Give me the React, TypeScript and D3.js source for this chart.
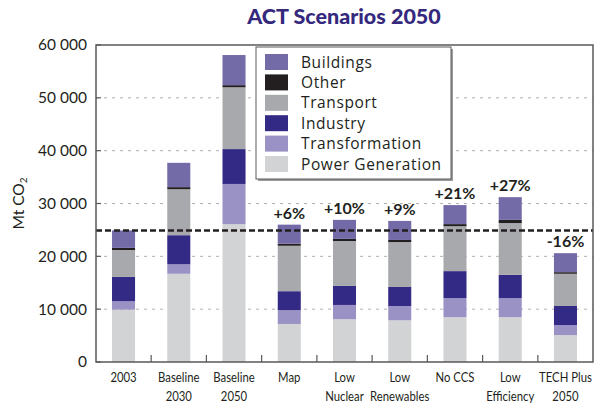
import React from "react";
import * as d3 from "d3";

// scenario categories (two-line labels)
const categories = [
  ["2003", ""],
  ["Baseline", "2030"],
  ["Baseline", "2050"],
  ["Map", ""],
  ["Low", "Nuclear"],
  ["Low", "Renewables"],
  ["No CCS", ""],
  ["Low", "Efficiency"],
  ["TECH Plus", "2050"],
];

// Mt CO2, stacked bottom -> top
const powerGeneration = [9900, 16700, 26100, 7200, 8100, 7900, 8500, 8500, 5100];
const transformation = [1600, 1800, 7600, 2600, 2700, 2700, 3600, 3600, 1900];
const industry = [4600, 5500, 6600, 3600, 3600, 3600, 5100, 4400, 3600];
const transport = [5100, 8700, 11700, 8600, 8500, 8500, 8500, 9800, 6100];
const other = [400, 400, 400, 400, 400, 400, 400, 600, 300];
const buildings = [3300, 4600, 5700, 3600, 3600, 3600, 3600, 4300, 3600];

const changeLabels = ["", "", "", "+6%", "+10%", "+9%", "+21%", "+27%", "-16%"];

const yTicks = [0, 10000, 20000, 30000, 40000, 50000, 60000];

const series = [
  { name: "Power Generation", values: powerGeneration, color: "#d1d3d4" },
  { name: "Transformation", values: transformation, color: "#9a92c4" },
  { name: "Industry", values: industry, color: "#322a84" },
  { name: "Transport", values: transport, color: "#a7a9ac" },
  { name: "Other", values: other, color: "#231f20" },
  { name: "Buildings", values: buildings, color: "#736aa8" },
];

const W = 602;
const H = 406;
const M = { left: 96, right: 9, top: 45, bottom: 44 };
const FONT = "Lato, 'Open Sans', sans-serif";
const LEGEND_FONT = "'Open Sans', Lato, sans-serif";

export default function App() {
  const x = d3
    .scaleBand<number>()
    .domain(categories.map((_, i) => i))
    .range([M.left, W - M.right])
    .paddingInner(0.583)
    .paddingOuter(0.29);
  const y = d3.scaleLinear().domain([0, 60000]).range([H - M.bottom, M.top]);

  const rows = categories.map((_, i) => {
    const r: Record<string, number> = {};
    series.forEach((s) => (r[s.name] = s.values[i]));
    return r;
  });
  const stacked = d3.stack<Record<string, number>>().keys(series.map((s) => s.name))(rows);
  const totals = rows.map((r) => d3.sum(Object.values(r)));
  const ref2003 = totals[0];

  const fmt = (v: number) => d3.format(",")(v).replace(/,/g, " ");
  const step = x.step();
  const x0 = M.left;
  const x1 = W - M.right;
  const yTop = M.top;
  const yBot = H - M.bottom;
  const outer = (x1 - x0 - step * categories.length) / 2;

  // legend (drawn top -> bottom in reverse stack order)
  const legendItems = [...series].reverse();
  const lg = { x: 256, y: 47, w: 195, h: 132 };

  return (
    <svg width={W} height={H} style={{ position: "absolute", left: 0, top: 0, background: "#fff" }}>
      <text x={344} y={24} textAnchor="middle" fontFamily={FONT} fontWeight={900} fontSize={21.5} fill="#34297d">
        ACT Scenarios 2050
      </text>

      {/* gridlines */}
      {yTicks.slice(1, -1).map((t) => (
        <line key={t} x1={x0} x2={x1} y1={y(t)} y2={y(t)} stroke="#b0b0b0" strokeWidth={1} strokeDasharray="3 5" />
      ))}

      {/* stacked bars */}
      {stacked.map((layer, li) => (
        <g key={layer.key} fill={series[li].color}>
          {layer.map((d, i) => (
            <rect key={i} x={x(i)} width={x.bandwidth()} y={y(d[1])} height={y(d[0]) - y(d[1])} />
          ))}
        </g>
      ))}

      {/* 2003 reference line */}
      <line x1={x0} x2={x1} y1={y(ref2003)} y2={y(ref2003)} stroke="#231f20" strokeWidth={2.5} strokeDasharray="6 3" />

      {/* change labels */}
      {changeLabels.map((l, i) =>
        l ? (
          <text key={i} x={(x(i) ?? 0) + x.bandwidth() / 2} y={y(totals[i]) - 6} textAnchor="middle" fontFamily={FONT} fontWeight={700} fontSize={16} fill="#231f20">
            {l}
          </text>
        ) : null
      )}

      {/* frame */}
      <rect x={x0} y={yTop} width={x1 - x0} height={yBot - yTop} fill="none" stroke="#58595b" strokeWidth={1.5} />

      {/* y ticks */}
      {yTicks.map((t) => (
        <g key={t}>
          <line x1={x0} x2={x0 + 5} y1={y(t)} y2={y(t)} stroke="#58595b" strokeWidth={1.2} />
          <text x={87} y={y(t)} dy="0.35em" textAnchor="end" fontFamily={FONT} fontSize={15.5} fill="#231f20">
            {fmt(t)}
          </text>
        </g>
      ))}

      {/* x boundary ticks */}
      {categories.slice(1).map((_, i) => {
        const bx = x0 + outer + step * (i + 1);
        return <line key={i} x1={bx} x2={bx} y1={yBot} y2={yBot - 7} stroke="#58595b" strokeWidth={1.2} />;
      })}

      {/* x labels, condensed */}
      {categories.map((c, i) => {
        const cx = (x(i) ?? 0) + x.bandwidth() / 2;
        return (
          <g key={i} transform={`translate(${cx},0) scale(0.84,1)`}>
            <text textAnchor="middle" fontFamily={FONT} fontSize={13.5} fill="#231f20">
              <tspan x={0} y={382}>{c[0]}</tspan>
              {c[1] ? <tspan x={0} y={401}>{c[1]}</tspan> : null}
            </text>
          </g>
        );
      })}

      {/* y axis title */}
      <text transform={`translate(24,${(yTop + yBot) / 2}) rotate(-90)`} textAnchor="middle" fontFamily={FONT} fontSize={15.5} fill="#231f20">
        Mt CO<tspan fontSize={10} dy={3}>2</tspan>
      </text>

      {/* legend */}
      <rect x={lg.x + 2} y={lg.y + 2} width={lg.w} height={lg.h} fill="#9a9a9a" />
      <rect x={lg.x} y={lg.y} width={lg.w} height={lg.h} fill="#fff" stroke="#58595b" strokeWidth={1} />
      {legendItems.map((s, i) => (
        <g key={s.name} transform={`translate(${lg.x + 9},${lg.y + 7 + i * 20.4})`}>
          <rect width={23} height={16} fill={s.color} />
          <text x={36} y={8} dy="0.36em" fontFamily={LEGEND_FONT} fontSize={15.5} letterSpacing={0.6} fill="#231f20">
            {s.name}
          </text>
        </g>
      ))}
    </svg>
  );
}
